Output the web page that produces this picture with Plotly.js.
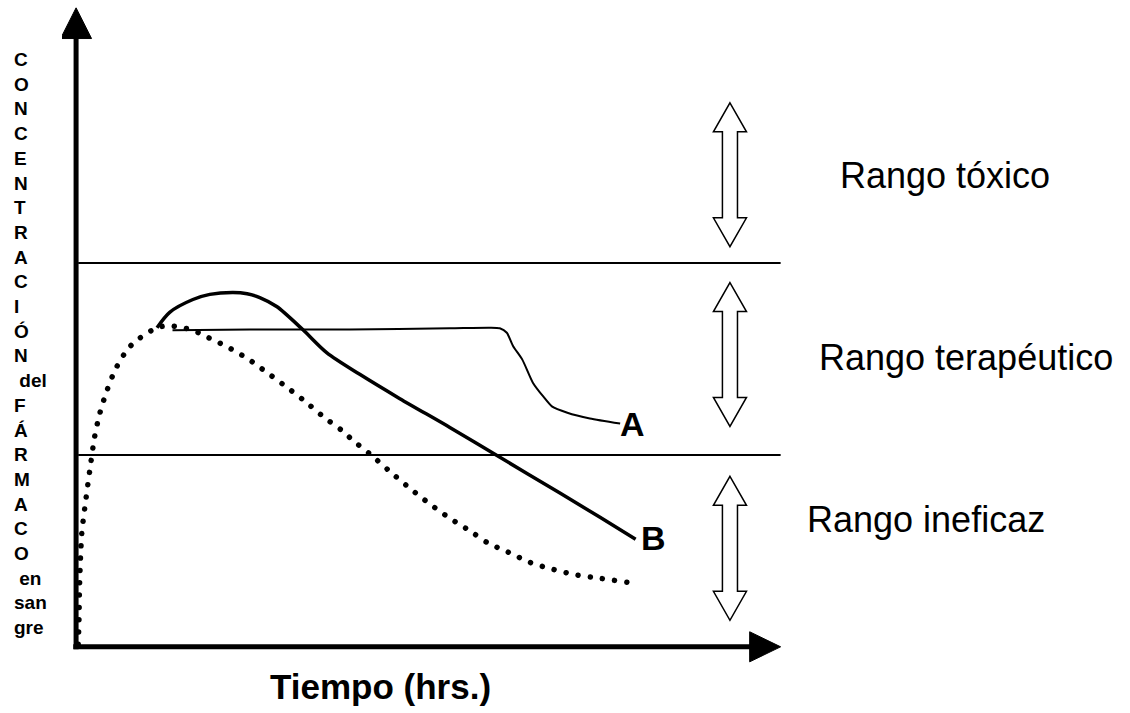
<!DOCTYPE html>
<html>
<head>
<meta charset="utf-8">
<script src="https://cdn.plot.ly/plotly-3.0.1.min.js"></script>
<style>html,body{margin:0;padding:0;background:#fff;}#chart{width:1130px;height:713px;}</style>
</head>
<body>
<div id="chart"></div>
<script>
// ---------- data (time in arbitrary hour units, concentration in arbitrary units) ----------
const timeA = [13.7, 24.7, 38.9, 53.1, 58.8, 60.2, 61.2, 62.1, 63.4, 64.9, 66.4, 67.6, 69.8, 73.0, 77.3];
const concA = [49.5, 49.6, 49.6, 49.8, 49.9, 49.8, 49.1, 47.0, 44.9, 41.3, 39.1, 37.6, 36.6, 35.7, 34.9];

const timeB = [11.5, 13.3, 16.6, 19.0, 22.3, 24.3, 26.1, 28.5, 32.2, 35.6, 40.3, 46.0, 53.1, 59.8, 68.8, 74.5, 79.5];
const concB = [49.9, 52.3, 54.3, 55.1, 55.4, 55.2, 54.6, 53.2, 49.6, 46.0, 42.6, 38.8, 34.3, 29.9, 24.0, 20.2, 16.8];

const timeC = [0.3, 0.4, 0.5, 0.8, 1.4, 2.1, 2.6, 3.3, 4.3, 5.6, 7.3, 8.6, 11.5, 13.2, 15.0, 16.6, 18.1, 21.3, 24.3, 27.1, 29.8, 32.5, 35.1, 37.9, 39.2, 41.8, 44.6, 47.4, 50.3, 53.1, 56.0, 58.4, 61.4, 64.5, 67.8, 71.2, 74.5, 78.3];
const concC = [0.4, 3.8, 10.1, 17.6, 23.1, 28.8, 32.6, 36.2, 39.8, 43.4, 46.5, 47.9, 49.9, 50.2, 49.9, 49.5, 48.7, 47.0, 45.1, 42.9, 40.7, 38.4, 36.0, 33.7, 32.4, 30.1, 27.4, 24.8, 22.3, 20.1, 18.1, 16.3, 14.8, 13.2, 12.1, 11.2, 10.7, 10.1];

const thresholds = [30, 60];             // límites ineficaz / terapéutico / tóxico
const rangeLabels = ['Rango tóxico', 'Rango terapéutico', 'Rango ineficaz'];
const curveLabels = ['A', 'B'];
const xTitle = 'Tiempo (hrs.)';
const yTitleLines = ['C','O','N','C','E','N','T','R','A','C','I','Ó','N',' del','F','Á','R','M','A','C','O',' en','san','gre'];

// ---------- styling / layout ----------
const FONT = 'Arial, "Liberation Sans", sans-serif';
const XMIN = -2, XMAX = 102, YMIN = -3, YMAX = 100.5;
const px = x => (x - XMIN) / (XMAX - XMIN);   // axis units -> paper fraction
const py = y => (y - YMIN) / (YMAX - YMIN);

const traces = [
  {x: timeA, y: concA, mode: 'lines', line: {color: '#000', width: 2, shape: 'spline', smoothing: 0.6}, hoverinfo: 'skip'},
  {x: timeB, y: concB, mode: 'lines', line: {color: '#000', width: 3.5, shape: 'spline', smoothing: 0.8}, hoverinfo: 'skip'},
  {x: timeC, y: concC, mode: 'lines', line: {color: '#000', width: 5, shape: 'spline', smoothing: 0.8, dash: '5px,7px'}, hoverinfo: 'skip'}
];

const shapes = [];
// axes with arrowheads
shapes.push({type: 'line', x0: 0, x1: 0, y0: -0.4, y1: 95.2, line: {color: '#000', width: 5}});
shapes.push({type: 'path', path: 'M -2.2,95.1 L 2.2,95.1 L 0,99.9 Z', fillcolor: '#000', line: {color: '#000', width: 1}});
shapes.push({type: 'line', x0: -0.4, x1: 95.8, y0: 0, y1: 0, line: {color: '#000', width: 5}});
shapes.push({type: 'path', path: 'M 95.7,-2.35 L 95.7,2.35 L 100.1,0 Z', fillcolor: '#000', line: {color: '#000', width: 1}});
// threshold lines
thresholds.forEach(t => shapes.push({type: 'line', x0: 0.3, x1: 100.1, y0: t, y1: t, line: {color: '#000', width: 2}}));
// hollow double-headed arrows
function dblArrow(xc, yc) {
  const h = 11.25, hl = 4.53, hw = 2.35, sw = 1.07;
  const p = [[xc, yc + h], [xc + hw, yc + h - hl], [xc + sw, yc + h - hl], [xc + sw, yc - h + hl], [xc + hw, yc - h + hl],
             [xc, yc - h], [xc - hw, yc - h + hl], [xc - sw, yc - h + hl], [xc - sw, yc + h - hl], [xc - hw, yc + h - hl]];
  return {type: 'path', path: 'M ' + p.map(q => q[0].toFixed(2) + ',' + q[1].toFixed(2)).join(' L ') + ' Z',
          fillcolor: '#fff', line: {color: '#000', width: 1.5}};
}
[73.8, 45.7, 15.4].forEach(yc => shapes.push(dblArrow(92.9, yc)));

const annotations = [];
const rangePos = [[123.4, 73.75], [126.5, 45.2], [120.8, 19.85]];
rangeLabels.forEach((t, i) => annotations.push({xref: 'paper', yref: 'paper', x: px(rangePos[i][0]), y: py(rangePos[i][1]), text: t, showarrow: false,
  xanchor: 'center', yanchor: 'middle', font: {family: FONT, size: 36, color: '#000'}}));
const curvePos = [[79.0, 34.8], [82.0, 16.95]];
curveLabels.forEach((t, i) => annotations.push({x: curvePos[i][0], y: curvePos[i][1], text: '<b>' + t + '</b>', showarrow: false,
  xanchor: 'center', yanchor: 'middle', font: {family: FONT, size: 34, color: '#000'}}));
annotations.push({xref: 'paper', yref: 'paper', x: px(43.3), y: py(-6.2), text: '<b>' + xTitle + '</b>', showarrow: false, xanchor: 'center', yanchor: 'middle',
  font: {family: FONT, size: 35, color: '#000'}});
annotations.push({xref: 'paper', yref: 'paper', x: px(-9.08), y: py(47.45), text: '<b>' + yTitleLines.join('<br>') + '</b>', showarrow: false, xanchor: 'left', yanchor: 'middle',
  align: 'left', font: {family: FONT, size: 19, color: '#000'}});

const layout = {
  width: 1130, height: 713,
  margin: {l: 62.44, r: 336.44, t: 4, b: 46.6, pad: 0},
  paper_bgcolor: '#fff', plot_bgcolor: '#fff',
  showlegend: false,
  xaxis: {range: [XMIN, XMAX], visible: false, fixedrange: true},
  yaxis: {range: [YMIN, YMAX], visible: false, fixedrange: true},
  shapes: shapes,
  annotations: annotations,
  font: {family: FONT}
};

Plotly.newPlot('chart', traces, layout, {staticPlot: true}).then(() => {
  const tr = document.querySelectorAll('.scatterlayer .trace');
  if (tr.length >= 3) {
    const p = tr[2].querySelector('path.js-line');
    if (p) {
      p.style.strokeDasharray = '0.01px,12.3px';
      p.style.strokeLinecap = 'round';
      p.style.strokeWidth = '5.5px';
    }
  }
});
</script>
</body>
</html>
